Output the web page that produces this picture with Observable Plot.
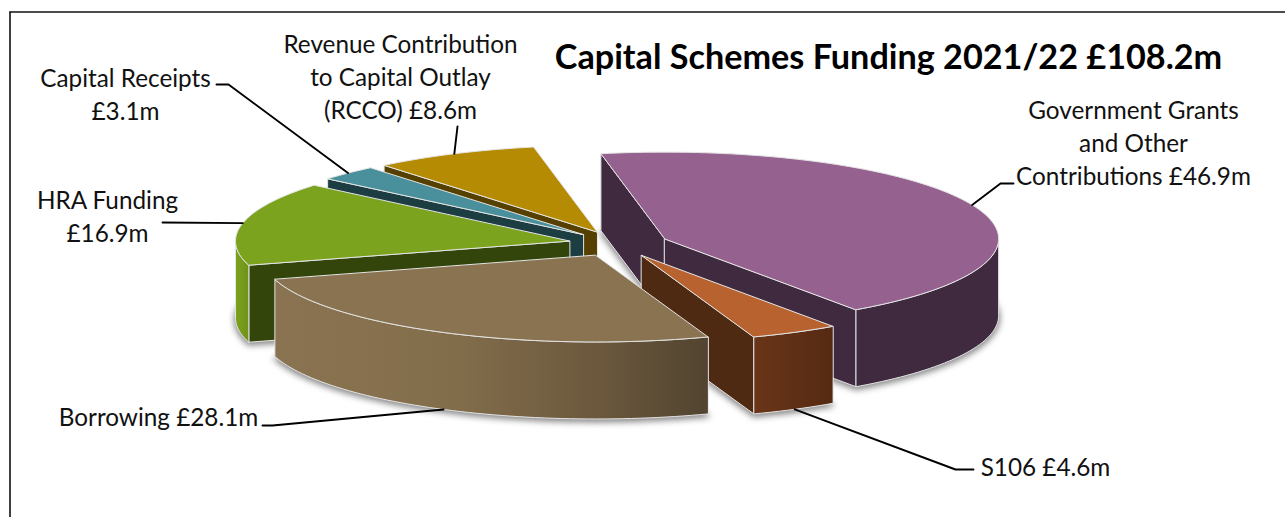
<!DOCTYPE html>
<html>
<head>
<meta charset="utf-8">
<style>
  html, body { margin: 0; padding: 0; background: #fff; }
  svg { display: block; }
</style>
<script src="https://cdn.jsdelivr.net/npm/d3@7"></script>
<script src="https://cdn.jsdelivr.net/npm/@observablehq/plot@0.6"></script>
</head>
<body>
<script>
// Capital funding sources, in £m, clockwise from the top of the pie.
const sources = [
  "Government Grants\nand Other\nContributions",
  "S106",
  "Borrowing",
  "HRA Funding",
  "Capital Receipts",
  "Revenue Contribution\nto Capital Outlay\n(RCCO)"
];
const amounts = [46.9, 4.6, 28.1, 16.9, 3.1, 8.6];
const statedTotal = 108.2;
const labelBreaks = [" ", " ", " ", "\n", "\n", " "];

// Slice colours: top face, cut face, outer wall stops.
const topFills = ["#95628f", "#b8622f", "#8a7350", "#7ba31d", "#4a909c", "#b68b04"];
const cutFills = ["#402a40", "#4e2a12", "#8a7350", "#34450c", "#1c3d42", "#554000"];
const wallStops = [
  [["0%", "#402a40"], ["100%", "#402a40"]],
  [["0%", "#6a3519"], ["100%", "#552a12"]],
  [["0%", "#8a7350"], ["40%", "#836e4c"], ["75%", "#6b583d"], ["100%", "#524430"]],
  [["0%", "#7ba31d"], ["100%", "#6f9219"]],
  [["0%", "#4a909c"], ["100%", "#4a909c"]],
  [["0%", "#b68b04"], ["100%", "#b68b04"]]
];

// Pie layout on the page.
const pie = {cx: 618, cy: 243.3, rx: 334, ry: 86.6, depth: 77, explode: 0.15, startDeg: -11};
const paintOrder = [0, 5, 4, 3, 1, 2];

// Label block centres and leader elbows, in page units.
const labelAt = [[1133, 141], [1045, 465], [158, 415], [107, 214], [125, 92], [400, 75]];
const leaderVia = [
  [[1013, 183], [1000, 183]],
  [[973, 469], [955, 469]],
  [[262, 425], [272, 425]],
  [[162, 222]],
  [[216, 84], [228, 84]],
  [[457, 126]]
];

const rad = (deg) => (deg * Math.PI) / 180;
let running = pie.startDeg;
const slices = amounts.map((amount, i) => {
  const a0 = running;
  const a1 = (running += (amount / statedTotal) * 360);
  const mid = (a0 + a1) / 2;
  const ax = pie.cx + pie.rx * pie.explode * Math.sin(rad(mid));
  const ay = pie.cy - pie.ry * pie.explode * Math.cos(rad(mid));
  const rim = (deg, drop = 0) => ({
    x: ax + pie.rx * Math.sin(rad(deg)),
    y: ay - pie.ry * Math.cos(rad(deg)) + drop
  });
  const steps = (from, to) => d3.range(from, to, 1.5).concat(to);
  return {i, a0, a1, mid, ax, ay, rim, steps};
});

// Faces of one slice, back faces left out.
function faces(s) {
  const out = [];
  const apex = {x: s.ax, y: s.ay};
  const apexLow = {x: s.ax, y: s.ay + pie.depth};
  const radial = (deg) => [apex, s.rim(deg), s.rim(deg, pie.depth), apexLow];
  if (Math.sin(rad(s.a0)) < 0) out.push({pts: radial(s.a0), fill: cutFills[s.i]});
  if (Math.sin(rad(s.a1)) > 0) out.push({pts: radial(s.a1), fill: cutFills[s.i]});
  const from = Math.max(s.a0, 90), to = Math.min(s.a1, 270);
  if (from < to) {
    const arc = s.steps(from, to);
    out.push({
      pts: [...arc.map((d) => s.rim(d)), ...arc.reverse().map((d) => s.rim(d, pie.depth))],
      fill: `url(#wall-${s.i})`
    });
  }
  out.push({
    pts: [apex, ...s.steps(s.a0, s.a1).map((d) => s.rim(d))],
    fill: topFills[s.i]
  });
  return out;
}

// Horizontal shading for the outer walls.
function wallGradients() {
  const ns = "http://www.w3.org/2000/svg";
  const defs = document.createElementNS(ns, "defs");
  wallStops.forEach((stops, i) => {
    const g = document.createElementNS(ns, "linearGradient");
    g.setAttribute("id", `wall-${i}`);
    stops.forEach(([offset, color]) => {
      const stop = document.createElementNS(ns, "stop");
      stop.setAttribute("offset", offset);
      stop.setAttribute("stop-color", color);
      g.appendChild(stop);
    });
    defs.appendChild(g);
  });
  return defs;
}

const polygon = (pts, options) =>
  Plot.line(pts, {x: "x", y: "y", curve: "linear-closed", ...options});

// Soft shadow cast by the underside of each slice.
const shadowMarks = slices.map((s) =>
  polygon(
    [{x: s.ax, y: s.ay + pie.depth + 2}, ...s.steps(s.a0, s.a1).map((d) => s.rim(d, pie.depth + 2))],
    {fill: "#888", stroke: "#888", strokeWidth: 3, imageFilter: "blur(3px)"}
  )
);

const sliceMarks = paintOrder.flatMap((i) =>
  faces(slices[i]).map((f) =>
    polygon(f.pts, {fill: f.fill, stroke: "#e4e4e4", strokeWidth: 1, strokeLinejoin: "round"})
  )
);

// Leaders run from the label to the middle of the slice's rim.
const leaders = slices.map((s) => {
  const front = s.mid > 90 && s.mid < 270;
  return [...leaderVia[s.i].map(([x, y]) => ({x, y})), s.rim(s.mid, front ? pie.depth : 0)];
});

const labels = slices.map((s) => ({
  text: `${sources[s.i]}${labelBreaks[s.i]}£${amounts[s.i]}m`,
  x: labelAt[s.i][0],
  y: labelAt[s.i][1]
}));

const chart = Plot.plot({
  width: 1285,
  height: 517,
  margin: 0,
  x: {domain: [0, 1285], range: [0, 1285], axis: null},
  y: {domain: [0, 517], range: [0, 517], axis: null},
  style: {background: "#fff"},
  marks: [
    wallGradients,
    Plot.ruleX([9.5], {y1: 11.5, y2: 517, stroke: "#111", strokeWidth: 1.6}),
    Plot.ruleY([11.5], {x1: 9.5, x2: 1285, stroke: "#111", strokeWidth: 1.6}),
    ...shadowMarks,
    ...sliceMarks,
    ...leaders.map((pts) =>
      Plot.line(pts, {x: "x", y: "y", stroke: "#000", strokeWidth: 1.9, curve: "linear"})
    ),
    Plot.text(labels, {
      x: "x",
      y: "y",
      text: "text",
      fontFamily: "Lato",
      fontSize: 24.3,
      lineHeight: 1.36,
      lineAnchor: "middle",
      textAnchor: "middle",
      fill: "#111"
    }),
    Plot.text(["Capital Schemes Funding 2021/22 £108.2m"], {
      x: () => 888,
      y: () => 58,
      fontFamily: "Lato",
      fontSize: 34.2,
      fontWeight: "bold",
      lineAnchor: "middle",
      textAnchor: "middle",
      fill: "#000"
    })
  ]
});
document.body.appendChild(chart);
</script>
</body>
</html>
